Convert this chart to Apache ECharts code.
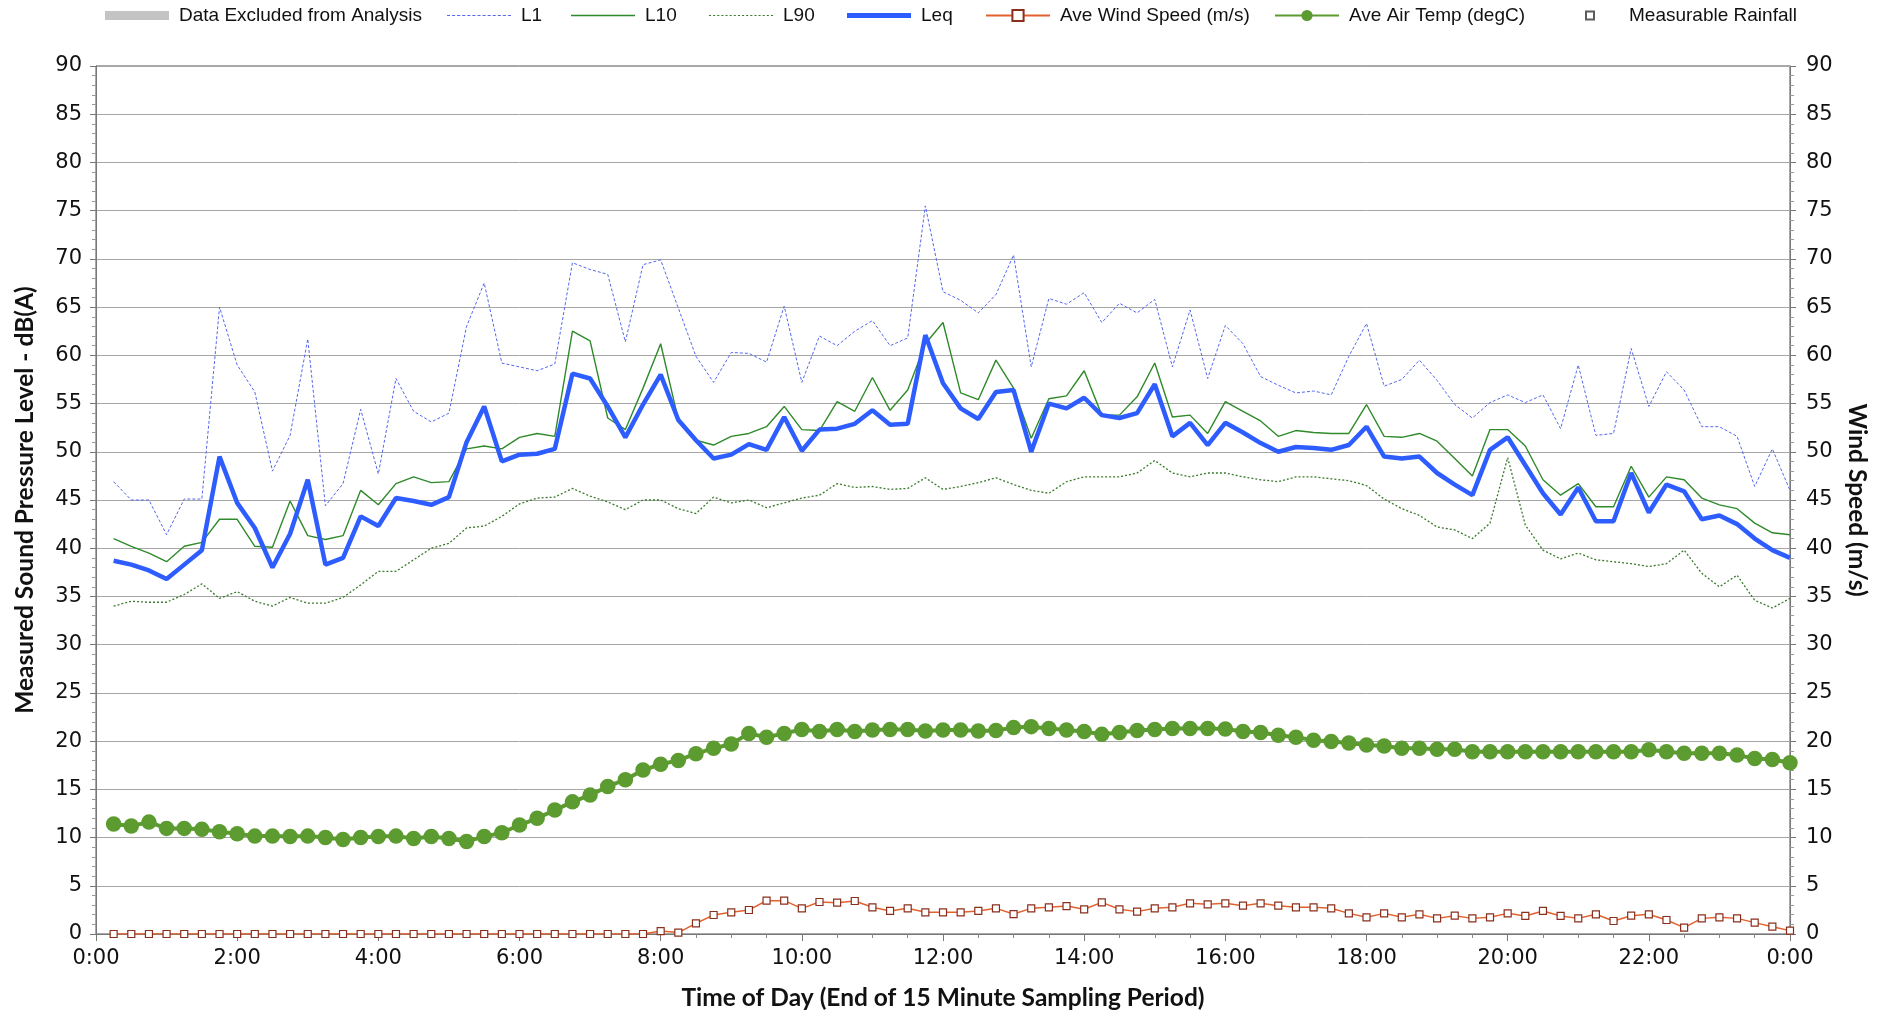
<!DOCTYPE html>
<html>
<head>
<meta charset="utf-8">
<script src="https://cdn.jsdelivr.net/npm/echarts@6/dist/echarts.min.js"></script>
<style>
html,body{margin:0;padding:0;background:#fff;}
#chart{width:1884px;height:1018px;}
</style>
</head>
<body>
<div id="chart"></div>
<script>
const times = ['0:15','0:30','0:45','1:00','1:15','1:30','1:45','2:00','2:15','2:30','2:45','3:00','3:15','3:30','3:45','4:00','4:15','4:30','4:45','5:00','5:15','5:30','5:45','6:00','6:15','6:30','6:45','7:00','7:15','7:30','7:45','8:00','8:15','8:30','8:45','9:00','9:15','9:30','9:45','10:00','10:15','10:30','10:45','11:00','11:15','11:30','11:45','12:00','12:15','12:30','12:45','13:00','13:15','13:30','13:45','14:00','14:15','14:30','14:45','15:00','15:15','15:30','15:45','16:00','16:15','16:30','16:45','17:00','17:15','17:30','17:45','18:00','18:15','18:30','18:45','19:00','19:15','19:30','19:45','20:00','20:15','20:30','20:45','21:00','21:15','21:30','21:45','22:00','22:15','22:30','22:45','23:00','23:15','23:30','23:45','24:00'];

const xTickLabels = ['0:00','2:00','4:00','6:00','8:00','10:00','12:00','14:00','16:00','18:00','20:00','22:00','0:00'];

const L1 = [46.9,45.0,45.0,41.4,45.1,45.1,65.0,59.0,56.2,48.0,51.7,61.7,44.4,46.7,54.4,47.7,57.6,54.2,53.1,54.0,63.0,67.5,59.2,58.8,58.4,
59.1,69.6,68.9,68.4,61.4,69.4,69.9,64.9,59.9,57.2,60.3,60.2,59.3,65.1,57.2,62.0,61.0,62.5,63.6,61.0,61.8,75.5,66.6,65.7,
64.4,66.3,70.4,58.8,65.9,65.3,66.5,63.4,65.4,64.4,65.8,58.8,64.7,57.6,63.1,61.2,57.8,56.9,56.1,56.3,55.9,59.9,63.3,56.8,
57.5,59.5,57.4,54.9,53.5,55.1,55.9,55.1,55.9,52.4,59.0,51.7,51.9,60.7,54.7,58.3,56.4,52.6,52.6,51.6,46.4,50.3,46.0];

const L10 = [41.0,40.2,39.5,38.6,40.2,40.6,43.0,43.0,40.2,40.1,44.9,41.3,40.9,41.3,46.0,44.5,46.7,47.4,46.8,46.9,50.3,50.6,50.3,51.5,51.9,
51.6,62.5,61.5,53.5,52.3,56.6,61.2,53.3,51.2,50.7,51.6,51.9,52.6,54.7,52.3,52.2,55.2,54.2,57.7,54.3,56.4,61.2,63.4,56.1,
55.4,59.5,56.6,51.4,55.5,55.8,58.4,53.8,53.8,55.7,59.2,53.6,53.8,51.9,55.2,54.2,53.2,51.6,52.2,52.0,51.9,51.9,54.9,51.6,
51.5,51.9,51.1,49.3,47.5,52.3,52.3,50.6,47.1,45.5,46.7,44.3,44.3,48.5,45.3,47.4,47.1,45.2,44.5,44.1,42.6,41.6,41.4];

const L90 = [34.0,34.5,34.4,34.4,35.2,36.3,34.8,35.5,34.5,34.0,34.9,34.3,34.3,
34.9,36.2,37.6,37.6,38.8,40.0,40.5,42.1,42.3,43.3,44.6,45.2,
45.3,46.2,45.4,44.8,44.0,45.0,45.0,44.1,43.6,45.3,44.7,45.0,44.2,44.7,45.2,45.5,46.7,46.3,46.4,46.1,46.2,47.3,46.1,46.4,
46.8,47.3,46.6,46.0,45.7,46.9,47.4,47.4,47.4,47.8,49.1,47.8,47.4,47.8,47.8,47.4,47.1,46.9,47.4,47.4,47.2,47.0,46.5,45.1,
44.1,43.4,42.2,41.9,41.0,42.6,49.4,42.4,39.8,38.9,39.5,38.8,38.6,38.4,38.1,38.4,39.8,37.4,36.0,37.2,34.6,33.8,34.8];

const Leq = [38.7,38.3,37.7,36.8,38.3,39.8,49.5,44.7,42.1,38.0,41.5,47.1,38.3,39.0,43.3,42.3,45.2,44.9,44.5,45.3,51.0,54.7,49.0,49.7,49.8,
50.3,58.1,57.6,54.7,51.5,54.9,58.0,53.3,51.2,49.3,49.7,50.8,50.2,53.6,50.1,52.3,52.4,52.9,54.3,52.8,52.9,62.1,57.1,54.5,
53.4,56.2,56.4,50.0,55.0,54.5,55.6,53.8,53.5,54.0,57.0,51.6,53.0,50.7,53.0,52.0,50.9,50.0,50.5,50.4,50.2,50.7,52.6,49.5,
49.3,49.5,47.8,46.6,45.5,50.2,51.5,48.6,45.7,43.5,46.3,42.8,42.8,47.8,43.7,46.6,45.9,43.0,43.4,42.5,41.0,39.8,39.0];

const windSpeed = [0,0,0,0,0,0,0,0,0,0,0,0,0,0,0,0,0,0,0,0,0,0,0,0,0,0,0,0,0,0,0,
0.3,0.15,1.1,1.97,2.25,2.49,3.46,3.46,2.66,3.32,3.25,3.42,2.77,2.39,2.66,2.25,2.25,2.25,2.39,2.66,2.07,2.66,2.77,2.9,2.56,3.28,2.56,2.32,2.66,2.77,3.18,3.08,3.18,
2.94,3.18,2.94,2.77,2.77,2.66,2.14,1.73,2.14,1.73,2.04,1.62,1.9,1.62,1.73,2.14,1.87,2.39,1.87,1.62,2.04,1.35,1.9,2.04,1.45,0.66,1.62,1.73,1.62,1.18,0.76,0.35];

const airTemp = [11.4,11.2,11.6,10.95,10.95,10.85,10.6,10.4,10.15,10.15,
10.1,10.15,10.0,9.8,10.0,10.1,10.15,9.9,10.1,9.9,
9.6,10.1,10.5,11.3,12.0,12.85,13.7,14.4,15.3,16.0,
17.0,17.6,18.0,18.7,19.25,19.7,20.8,20.4,20.8,21.2,
21.0,21.2,21.0,21.15,21.2,21.2,21.05,21.15,21.15,21.05,
21.1,21.4,21.5,21.3,21.15,21.0,20.7,20.9,21.1,21.2,
21.3,21.3,21.3,21.25,21.0,20.9,20.6,20.4,20.1,19.95,
19.8,19.6,19.5,19.25,19.25,19.15,19.15,18.9,18.9,18.9,
18.9,18.9,18.9,18.9,18.9,18.9,18.9,19.1,18.9,18.75,
18.75,18.75,18.55,18.2,18.1,17.75];

const rainfall = [];
const excluded = [];

const toMin = t => { const p = t.split(':').map(Number); return p[0] * 60 + p[1]; };
const pair = arr => times.map((t, i) => [toMin(t), arr[i]]);

// dashed legend icon paths (style only)
function dashPath(dash, gap) {
  let d = 'path://';
  for (let x = 0; x < 64; x += dash + gap) d += 'M' + x + ',0h' + Math.min(dash, 64 - x) + 'v1h-' + Math.min(dash, 64 - x) + 'z';
  return d;
}

const chart = echarts.init(document.getElementById('chart'), null, {renderer: 'canvas'});

const tickFont = {fontFamily: 'DejaVu Sans', fontSize: 21, color: '#111'};
const titleFont = {fontFamily: 'Lato', fontWeight: 'bold', fontSize: 24.5, color: '#111'};
const legendText = {fontFamily: 'Liberation Sans Narrow, Liberation Sans', fontSize: 19, color: '#111', padding: [0, 0, 0, 5]};

function lg(name, left, extra) {
  return Object.assign({
    data: [name], left: left, top: 6, itemWidth: 64, itemHeight: 14,
    textStyle: legendText, selectedMode: false, padding: 0
  }, extra || {});
}

const option = {
  animation: false,
  backgroundColor: '#fff',
  grid: {left: 96, right: 94, top: 66, bottom: 84, show: true, borderColor: '#555', borderWidth: 1},
  legend: [
    lg('Data Excluded from Analysis', 105, {data: [{name: 'Data Excluded from Analysis', icon: 'rect'}], itemHeight: 9}),
    lg('L1', 447, {data: [{name: 'L1', icon: dashPath(3, 2)}], itemHeight: 1.3}),
    lg('L10', 571, {data: [{name: 'L10', icon: 'rect'}], itemHeight: 1.5}),
    lg('L90', 709, {data: [{name: 'L90', icon: dashPath(2, 2)}], itemHeight: 1.5}),
    lg('Leq', 847, {data: [{name: 'Leq', icon: 'rect'}], itemHeight: 5}),
    lg('Ave Wind Speed (m/s)', 985),
    lg('Ave Air Temp (degC)', 1274),
    lg('Measurable Rainfall', 1585, {itemWidth: 8, itemHeight: 8,
      textStyle: Object.assign({}, legendText, {padding: [0, 0, 0, 30]})})
  ],
  xAxis: {
    type: 'value', min: 0, max: 1440, interval: 120,
    name: 'Time of Day (End of 15 Minute Sampling Period)',
    nameLocation: 'middle', nameGap: 52, nameTextStyle: titleFont,
    axisLine: {show: true, lineStyle: {color: '#777', width: 1}},
    axisTick: {show: true, length: 7, lineStyle: {color: '#777'}},
    minorTick: {show: true, splitNumber: 4, length: 4, lineStyle: {color: '#888'}},
    axisLabel: Object.assign({}, tickFont, {margin: 14, formatter: v => xTickLabels[Math.round(v / 120)]}),
    splitLine: {show: false}
  },
  yAxis: [
    {
      type: 'value', min: 0, max: 90, interval: 5, position: 'left',
      name: 'Measured Sound Pressure Level - dB(A)', nameLocation: 'middle',
      nameRotate: 90, nameGap: 58, nameTextStyle: titleFont,
      axisLine: {show: true, lineStyle: {color: '#777'}},
      axisTick: {show: true, length: 6, lineStyle: {color: '#777'}},
      minorTick: {show: true, splitNumber: 5, length: 4, lineStyle: {color: '#999'}},
      axisLabel: Object.assign({}, tickFont, {margin: 14}),
      splitLine: {show: true, lineStyle: {color: '#a6a6a6', width: 1}}
    },
    {
      type: 'value', min: 0, max: 90, interval: 5, position: 'right',
      name: 'Wind Speed (m/s)', nameLocation: 'middle',
      nameRotate: -90, nameGap: 54, nameTextStyle: titleFont,
      axisLine: {show: true, lineStyle: {color: '#777'}},
      axisTick: {show: true, length: 6, lineStyle: {color: '#777'}},
      minorTick: {show: true, splitNumber: 5, length: 4, lineStyle: {color: '#999'}},
      axisLabel: Object.assign({}, tickFont, {margin: 16}),
      splitLine: {show: false}
    }
  ],
  series: [
    {name: 'Data Excluded from Analysis', type: 'line', data: excluded, symbol: 'none',
      lineStyle: {width: 9, color: '#c4c4c4'}, itemStyle: {color: '#c4c4c4'}},
    {name: 'L1', type: 'line', data: pair(L1), symbol: 'none', z: 3,
      lineStyle: {width: 1, color: '#5467ee', type: [3, 2]}, itemStyle: {color: '#5467ee'}},
    {name: 'L10', type: 'line', data: pair(L10), symbol: 'none', z: 3,
      lineStyle: {width: 1.4, color: '#2f8a2a'}, itemStyle: {color: '#2f8a2a'}},
    {name: 'L90', type: 'line', data: pair(L90), symbol: 'none', z: 3,
      lineStyle: {width: 1.3, color: '#3a7a2c', type: [2, 2]}, itemStyle: {color: '#3a7a2c'}},
    {name: 'Leq', type: 'line', data: pair(Leq), symbol: 'none', z: 4,
      lineStyle: {width: 4.5, color: '#2d5cff'}, itemStyle: {color: '#2d5cff'}},
    {name: 'Ave Wind Speed (m/s)', type: 'line', yAxisIndex: 1, data: pair(windSpeed), z: 3,
      symbol: 'rect', symbolSize: 7, showAllSymbol: true,
      lineStyle: {width: 1.5, color: '#e2622f'},
      itemStyle: {color: '#fff', borderColor: '#8a2f1c', borderWidth: 1.2}},
    {name: 'Ave Air Temp (degC)', type: 'line', data: pair(airTemp), z: 3,
      symbol: 'circle', symbolSize: 15.5, showAllSymbol: true,
      lineStyle: {width: 4, color: '#5b9b30'}, itemStyle: {color: '#5b9b30'}},
    {name: 'Measurable Rainfall', type: 'scatter', data: rainfall, symbol: 'rect', symbolSize: 7,
      itemStyle: {color: '#fff', borderColor: '#333', borderWidth: 1}}
  ]
};
chart.setOption(option);
</script>
</body>
</html>
